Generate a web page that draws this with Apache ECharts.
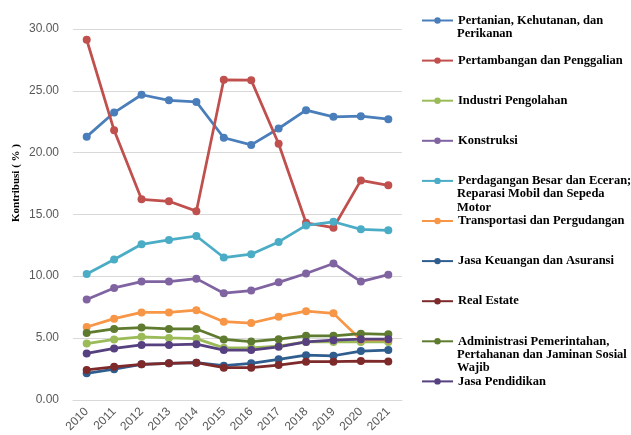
<!DOCTYPE html>
<html>
<head>
<meta charset="utf-8">
<script src="https://cdn.jsdelivr.net/npm/echarts@6/dist/echarts.min.js"></script>
<style>
  html, body { margin: 0; padding: 0; background: #fff; }
  #chart { width: 631px; height: 435px; }
</style>
</head>
<body>
<div id="chart"></div>
<script>
// Years on the category axis
const years = ['2010', '2011', '2012', '2013', '2014', '2015', '2016', '2017', '2018', '2019', '2020', '2021'];

// Value-axis ticks
const yTicks = [0, 5, 10, 15, 20, 25, 30];

// Sector names, split into the lines shown in the legend
const sectorLines = [
  ['Pertanian, Kehutanan, dan', 'Perikanan'],
  ['Pertambangan dan Penggalian'],
  ['Industri Pengolahan'],
  ['Konstruksi'],
  ['Perdagangan Besar dan Eceran;', 'Reparasi Mobil dan Sepeda', 'Motor'],
  ['Transportasi dan Pergudangan'],
  ['Jasa Keuangan dan Asuransi'],
  ['Real Estate'],
  ['Administrasi Pemerintahan,', 'Pertahanan dan Jaminan Sosial', 'Wajib'],
  ['Jasa Pendidikan']
];

// Contribution (%) per sector and year
const pertanian     = [21.29, 23.24, 24.68, 24.23, 24.10, 21.20, 20.62, 21.95, 23.43, 22.89, 22.95, 22.70];
const pertambangan  = [29.13, 21.80, 16.22, 16.06, 15.26, 25.89, 25.86, 20.72, 14.32, 13.92, 17.75, 17.35];
const industri      = [4.55, 4.88, 5.09, 5.00, 4.95, 4.20, 4.20, 4.34, 4.68, 4.68, 4.68, 4.68];
const konstruksi    = [8.11, 9.05, 9.56, 9.56, 9.80, 8.62, 8.84, 9.50, 10.22, 11.03, 9.56, 10.12];
const perdagangan   = [10.17, 11.35, 12.58, 12.93, 13.25, 11.51, 11.78, 12.77, 14.11, 14.40, 13.79, 13.71];
const transportasi  = [5.89, 6.56, 7.07, 7.07, 7.25, 6.32, 6.21, 6.72, 7.17, 6.99, 4.85, 4.85];
const keuangan      = [2.14, 2.47, 2.87, 2.95, 3.00, 2.76, 2.95, 3.27, 3.61, 3.56, 3.94, 4.02];
const realEstate    = [2.41, 2.67, 2.87, 2.95, 3.00, 2.60, 2.60, 2.81, 3.08, 3.08, 3.13, 3.10];
const administrasi  = [5.41, 5.73, 5.84, 5.73, 5.73, 4.88, 4.71, 4.90, 5.17, 5.17, 5.35, 5.30];
const pendidikan    = [3.75, 4.15, 4.44, 4.44, 4.50, 4.02, 4.02, 4.28, 4.68, 4.82, 4.90, 4.90];

const seriesValues = [pertanian, pertambangan, industri, konstruksi, perdagangan,
  transportasi, keuangan, realEstate, administrasi, pendidikan];

const colors = ['#4A7EBB', '#C0504D', '#9BBB59', '#8064A2', '#4BACC6',
  '#F79646', '#2F5D8E', '#7E2A2A', '#5E7B2F', '#56407F'];

const seriesNames = sectorLines.map(l => l.join(' '));
const firstLine = {};
seriesNames.forEach((n, i) => { firstLine[n] = sectorLines[i][0]; });

// Legend layout: one entry every 40 px, wrapped lines drawn below each entry
const legendLeft = 421, legendFirstY = 20, legendStep = 40.1;
const legendIconW = 31, legendIconH = 8;
const legendFontSize = 12.5;
const legendTextX = legendLeft + legendIconW + 5;
const legendLineH = 13.5;
const legendFont = { fontFamily: 'Liberation Serif', fontWeight: 'bold', fontSize: legendFontSize };

const extraLegendText = [];
sectorLines.forEach((lines, i) => {
  const cy = legendFirstY + i * legendStep;
  lines.slice(1).forEach((t, k) => {
    extraLegendText.push({
      type: 'text',
      x: legendTextX,
      y: cy + (k + 1) * legendLineH,
      style: Object.assign({ text: t, fill: '#000', verticalAlign: 'middle', align: 'left' }, legendFont)
    });
  });
});

// One legend block per sector so every entry sits at its own fixed row
const legends = seriesNames.map((n, i) => ({
  orient: 'vertical',
  left: legendLeft,
  top: legendFirstY + i * legendStep - 6,
  padding: 0,
  itemWidth: legendIconW,
  itemHeight: legendIconH,
  data: [n],
  formatter: name => firstLine[name],
  textStyle: Object.assign({ color: '#000' }, legendFont)
}));

const chart = echarts.init(document.getElementById('chart'), null, { renderer: 'canvas' });

chart.setOption({
  animation: false,
  color: colors,
  grid: { left: 73, right: 229, top: 29, bottom: 33, containLabel: false },
  legend: legends,
  xAxis: {
    type: 'category',
    data: years,
    boundaryGap: true,
    axisLine: { lineStyle: { color: '#D9D9D9', width: 1 } },
    axisTick: { show: false },
    axisLabel: {
      rotate: 45,
      margin: 10,
      color: '#595959',
      fontFamily: 'Liberation Sans',
      fontSize: 12
    }
  },
  yAxis: {
    type: 'value',
    min: yTicks[0],
    max: yTicks[yTicks.length - 1],
    interval: yTicks[1] - yTicks[0],
    axisLine: { show: false },
    axisTick: { show: false },
    splitLine: { lineStyle: { color: '#D9D9D9', width: 1 } },
    axisLabel: {
      margin: 14,
      color: '#595959',
      fontFamily: 'Liberation Sans',
      fontSize: 12,
      formatter: v => v.toFixed(2)
    }
  },
  graphic: [
    {
      type: 'text',
      x: 16,
      y: 183,
      rotation: Math.PI / 2,
      style: {
        text: 'Kontribusi ( % )',
        fill: '#000',
        fontFamily: 'Liberation Serif',
        fontWeight: 'bold',
        fontSize: 11,
        align: 'center',
        verticalAlign: 'middle'
      }
    }
  ].concat(extraLegendText),
  series: seriesValues.map((vals, i) => ({
    name: seriesNames[i],
    type: 'line',
    data: vals,
    symbol: 'circle',
    symbolSize: 8,
    lineStyle: { width: 2.75 },
    itemStyle: { color: colors[i] },
    emphasis: { disabled: true }
  }))
});
</script>
</body>
</html>
